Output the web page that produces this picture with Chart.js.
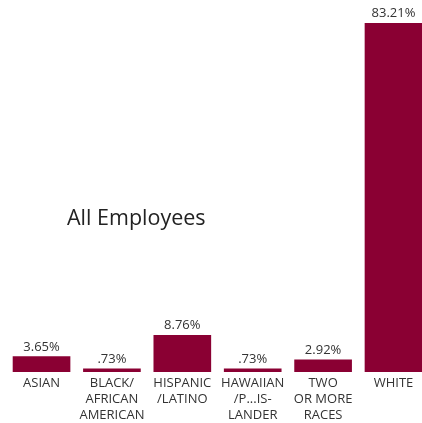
<!DOCTYPE html>
<html>
<head>
    <meta charset="utf-8" />
    <title>All Employees</title>
    <script src="https://cdn.jsdelivr.net/npm/chart.js@4/dist/chart.umd.min.js"></script>
    <style>
        html, body {
            margin: 0;
            padding: 0;
            background: #fff;
            overflow: hidden;
        }
        .cdvChart {
            position: relative;
            width: 422px;
            height: 423px;
        }
        .titulo {
            position: absolute;
            left: 67px;
            top: 202px;
            font-family: 'Open Sans', sans-serif;
            font-size: 21.5px;
            color: #222;
        }
    </style>
</head>
<body>
    <div class="cdvChart">
        <canvas id="chtEmp"></canvas>
        <div class="titulo">All Employees</div>
    </div>

    <script>
        // categorias (cada item = linhas do rótulo)
        const categorias = [
            ['ASIAN'],
            ['BLACK/', 'AFRICAN', 'AMERICAN'],
            ['HISPANIC', '/LATINO'],
            ['HAWAIIAN', '/P...IS-', 'LANDER'],
            ['TWO', 'OR MORE', 'RACES'],
            ['WHITE']
        ];
        const percentuais = [3.65, 0.73, 8.76, 0.73, 2.92, 83.21];
        const rotulos = ['3.65%', '.73%', '8.76%', '.73%', '2.92%', '83.21%'];

        const corBarra = '#8a0033';
        const corTexto = '#333';
        const fonte = "'Open Sans', sans-serif";

        // escreve o percentual acima de cada barra
        const valoresPlugin = {
            id: 'valores',
            afterDatasetsDraw(chart) {
                const ctx = chart.ctx;
                const meta = chart.getDatasetMeta(0);
                ctx.save();
                ctx.font = '13px ' + fonte;
                ctx.fillStyle = corTexto;
                ctx.textAlign = 'center';
                ctx.textBaseline = 'bottom';
                meta.data.forEach((bar, i) => {
                    ctx.fillText(rotulos[i], bar.x, bar.y - 3);
                });
                ctx.restore();
            }
        };

        const ctx = document.getElementById('chtEmp').getContext('2d');
        new Chart(ctx, {
            type: 'bar',
            data: {
                datasets: [{
                    data: percentuais.map((v, i) => ({ x: i, y: v })),
                    backgroundColor: corBarra,
                    borderWidth: 0,
                    barThickness: 57
                }]
            },
            options: {
                responsive: true,
                maintainAspectRatio: false,
                animation: false,
                layout: {
                    padding: { top: 23, left: 0, right: 0, bottom: 0 }
                },
                plugins: {
                    legend: { display: false },
                    tooltip: { enabled: false }
                },
                scales: {
                    x: {
                        type: 'linear',
                        offset: false,
                        min: -0.59,
                        max: 5.405,
                        grid: { display: false, drawTicks: false },
                        border: { display: false },
                        afterBuildTicks: (scale) => {
                            scale.ticks = categorias.map((_, i) => ({ value: i }));
                        },
                        afterFit: (scale) => {
                            scale.height = 51;
                        },
                        ticks: {
                            autoSkip: false,
                            maxRotation: 0,
                            padding: 3,
                            color: corTexto,
                            font: { family: fonte, size: 13, lineHeight: 1.23 },
                            callback: (value) => categorias[value] || ''
                        }
                    },
                    y: {
                        display: false,
                        min: 0,
                        max: 83.21
                    }
                }
            },
            plugins: [valoresPlugin]
        });
    </script>
</body>
</html>
